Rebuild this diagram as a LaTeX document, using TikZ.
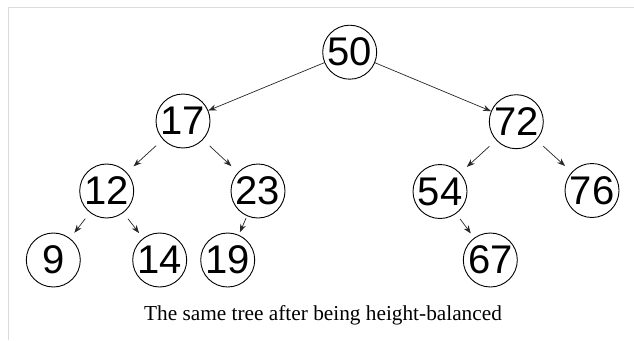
\documentclass[tikz,border=0pt]{standalone}
\usepackage{fontspec}
\setmainfont{Liberation Serif}
\newfontfamily\numfont{Liberation Sans}
\usetikzlibrary{arrows.meta}
\begin{document}
\begin{tikzpicture}[x=1pt,y=-1pt,
  tnode/.style={draw=black,line width=0.9pt,circle,minimum size=54pt,inner sep=0pt,font=\numfont\fontsize{40}{40}\selectfont},
  tedge/.style={draw=black!85,line width=0.7pt,-{Stealth[length=8pt,width=6pt]}},
  frameline/.style={draw=black!14,line width=1.5pt}]
\useasboundingbox (0,0) rectangle (634,340);
\draw[frameline] (8.5,340) -- (8.5,7.5) -- (634,7.5);
\node[tnode] (n50) at (349.7,52.2) {50};
\node[tnode] (n17) at (183,121) {17};
\node[tnode] (n72) at (516.3,121.7) {72};
\node[tnode] (n12) at (106.7,191) {12};
\node[tnode] (n23) at (258,191) {23};
\node[tnode] (n54) at (440,191.5) {54};
\node[tnode] (n76) at (592,190.5) {76};
\node[tnode] (n9) at (53.3,260) {9};
\node[tnode] (n14) at (159.7,260) {14};
\node[tnode] (n19) at (227.7,260) {19};
\node[tnode] (n67) at (490.3,260) {67};
\node[font=\fontsize{21.3}{24}\selectfont,anchor=base] (cap) at (323,320) {The same tree after being height-balanced};
\draw[tedge] (n50) -- (n17);
\draw[tedge] (n50) -- (n72);
\draw[tedge,shorten <=9pt,shorten >=9pt] (n17) -- (n12);
\draw[tedge,shorten <=9pt,shorten >=9pt] (n17) -- (n23);
\draw[tedge,shorten <=9pt,shorten >=9pt] (n72) -- (n54);
\draw[tedge,shorten <=9pt,shorten >=9pt] (n72) -- (n76);
\draw[tedge,shorten <=7.5pt,shorten >=7pt] (n12) -- (n9);
\draw[tedge,shorten <=7.5pt,shorten >=6.5pt] (n12) -- (n14);
\draw[tedge,shorten <=2pt,shorten >=3pt] (n23) -- (n19);
\draw[tedge,shorten <=6.5pt,shorten >=5.5pt] (n54) -- (n67);
\end{tikzpicture}
\end{document}
